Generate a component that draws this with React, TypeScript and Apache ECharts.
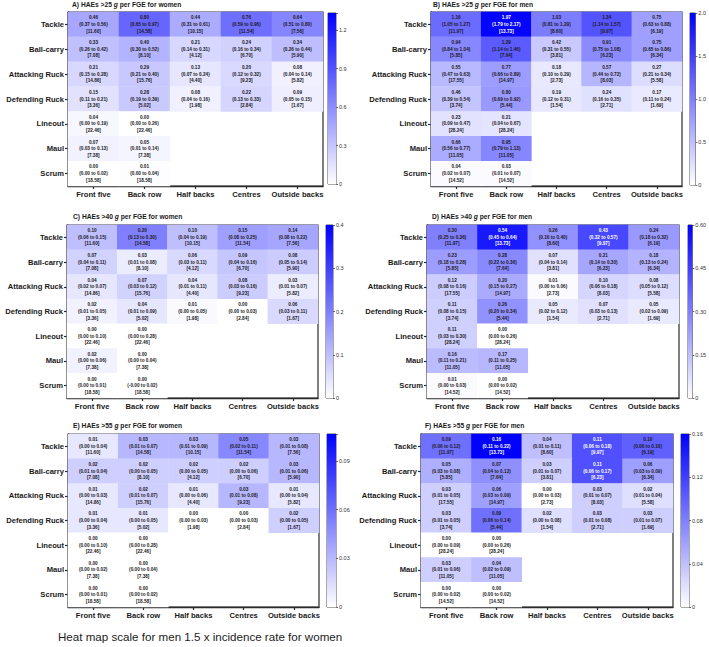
import React, { useEffect, useRef } from "react";
import * as echarts from "echarts";

const positions = ["Front five", "Back row", "Half backs", "Centres", "Outside backs"];
const actions = ["Tackle", "Ball-carry", "Attacking Ruck", "Defending Ruck", "Lineout", "Maul", "Scrum"];

const exposureWomen = [
  [11.6, 14.58, 10.15, 11.54, 7.56],
  [7.08, 8.1, 4.12, 6.7, 5.9],
  [14.86, 15.76, 4.4, 9.23, 5.82],
  [3.36, 5.02, 1.98, 2.84, 1.67],
  [22.46, 22.46, null, null, null],
  [7.38, 7.38, null, null, null],
  [18.58, 18.58, null, null, null],
];
const exposureMen = [
  [11.97, 13.73, 8.6, 9.97, 6.19],
  [5.85, 7.64, 3.81, 6.23, 6.34],
  [17.55, 14.97, 2.73, 8.03, 5.58],
  [3.74, 5.44, 1.54, 2.71, 1.69],
  [28.24, 28.24, null, null, null],
  [11.05, 11.05, null, null, null],
  [14.52, 14.52, null, null, null],
];

// A) >25 g women
const women25Rate = [[0.46, 0.8, 0.44, 0.76, 0.64], [0.33, 0.4, 0.21, 0.24, 0.34], [0.21, 0.29, 0.13, 0.2, 0.08], [0.15, 0.28, 0.08, 0.22, 0.09], [0.04, 0.0], [0.07, 0.05], [0.0, 0.01]];
const women25Lo = [[0.37, 0.65, 0.31, 0.59, 0.51], [0.26, 0.3, 0.14, 0.16, 0.26], [0.15, 0.21, 0.07, 0.12, 0.04], [0.11, 0.19, 0.04, 0.13, 0.05], [0.0, 0.0], [0.03, 0.01], [0.0, 0.0]];
const women25Hi = [[0.56, 0.97, 0.61, 0.96, 0.8], [0.42, 0.52, 0.31, 0.34, 0.44], [0.28, 0.4, 0.24, 0.32, 0.14], [0.21, 0.39, 0.16, 0.33, 0.15], [0.19, 0.26], [0.13, 0.14], [0.02, 0.04]];
// B) >25 g men
const men25Rate = [[1.16, 1.97, 1.03, 1.34, 0.75], [0.94, 1.29, 0.42, 0.91, 0.75], [0.55, 0.77, 0.18, 0.57, 0.27], [0.46, 0.8, 0.19, 0.24, 0.17], [0.23, 0.21], [0.66, 0.95], [0.04, 0.03]];
const men25Lo = [[1.05, 1.79, 0.81, 1.14, 0.63], [0.84, 1.14, 0.31, 0.75, 0.65], [0.47, 0.66, 0.1, 0.44, 0.21], [0.39, 0.69, 0.12, 0.16, 0.11], [0.09, 0.04], [0.56, 0.79], [0.02, 0.01]];
const men25Hi = [[1.27, 2.17, 1.29, 1.57, 0.88], [1.04, 1.46, 0.55, 1.08, 0.86], [0.63, 0.89, 0.29, 0.72, 0.34], [0.54, 0.92, 0.31, 0.35, 0.24], [0.47, 0.67], [0.77, 1.13], [0.07, 0.07]];
// C) >40 g women
const women40Rate = [[0.1, 0.2, 0.1, 0.15, 0.14], [0.07, 0.03, 0.06, 0.09, 0.08], [0.04, 0.07, 0.04, 0.08, 0.03], [0.02, 0.04, 0.01, 0.0, 0.06], [0.0, 0.0], [0.02, 0.0], [0.0, 0.0]];
const women40Lo = [[0.06, 0.13, 0.04, 0.08, 0.08], [0.04, 0.01, 0.03, 0.04, 0.05], [0.02, 0.03, 0.01, 0.03, 0.01], [0.01, 0.01, 0.0, 0.0, 0.03], [0.0, 0.0], [0.0, 0.0], [0.0, -0.001]];
const women40Hi = [[0.15, 0.3, 0.19, 0.25, 0.22], [0.11, 0.08, 0.11, 0.16, 0.14], [0.07, 0.12, 0.11, 0.16, 0.07], [0.05, 0.09, 0.05, 0.03, 0.11], [0.1, 0.28], [0.06, 0.04], [0.01, 0.02]];
// D) >40 g men
const men40Rate = [[0.3, 0.54, 0.26, 0.43, 0.24], [0.23, 0.28, 0.07, 0.21, 0.18], [0.12, 0.2, 0.01, 0.1, 0.08], [0.11, 0.26, 0.05, 0.07, 0.05], [0.11, 0.0], [0.16, 0.17], [0.01, 0.0]];
const men40Lo = [[0.25, 0.45, 0.16, 0.32, 0.18], [0.18, 0.22, 0.04, 0.14, 0.13], [0.08, 0.15, 0.0, 0.06, 0.05], [0.08, 0.2, 0.02, 0.03, 0.02], [0.03, 0.0], [0.11, 0.11], [0.0, 0.0]];
const men40Hi = [[0.36, 0.64, 0.4, 0.57, 0.32], [0.28, 0.36, 0.14, 0.3, 0.24], [0.16, 0.27, 0.06, 0.18, 0.12], [0.15, 0.34, 0.12, 0.13, 0.09], [0.3, 0.26], [0.21, 0.25], [0.03, 0.02]];
// E) >55 g women
const women55Rate = [[0.01, 0.03, 0.03, 0.05, 0.03], [0.02, 0.02, 0.02, 0.02, 0.03], [0.01, 0.02, 0.01, 0.03, 0.01], [0.01, 0.01, 0.0, 0.0, 0.02], [0.0, 0.0], [0.0, 0.0], [0.0, 0.0]];
const women55Lo = [[0.0, 0.01, 0.01, 0.02, 0.01], [0.01, 0.0, 0.0, 0.0, 0.01], [0.0, 0.01, 0.0, 0.01, 0.0], [0.0, 0.0, 0.0, 0.0, 0.0], [0.0, 0.0], [0.0, 0.0], [0.0, 0.0]];
const women55Hi = [[0.04, 0.07, 0.09, 0.11, 0.08], [0.04, 0.05, 0.05, 0.06, 0.06], [0.03, 0.07, 0.06, 0.08, 0.04], [0.04, 0.05, 0.03, 0.03, 0.05], [0.1, 0.28], [0.02, 0.04], [0.01, 0.02]];
// F) >55 g men
const men55Rate = [[0.09, 0.16, 0.04, 0.11, 0.1], [0.05, 0.07, 0.03, 0.11, 0.06], [0.03, 0.06, 0.0, 0.03, 0.02], [0.03, 0.09, 0.02, 0.03, 0.03], [0.0, 0.0], [0.03, 0.04], [0.0, 0.0]];
const men55Lo = [[0.06, 0.11, 0.01, 0.06, 0.06], [0.03, 0.04, 0.01, 0.06, 0.03], [0.01, 0.03, 0.0, 0.01, 0.01], [0.01, 0.06, 0.0, 0.01, 0.01], [0.0, 0.0], [0.01, 0.02], [0.0, 0.0]];
const men55Hi = [[0.12, 0.22, 0.11, 0.18, 0.16], [0.08, 0.12, 0.07, 0.17, 0.09], [0.05, 0.09, 0.03, 0.07, 0.04], [0.05, 0.14, 0.08, 0.08, 0.07], [0.09, 0.26], [0.06, 0.09], [0.02, 0.02]];

const panelLetters = ["A", "B", "C", "D", "E", "F"];
const thresholds = ["25", "25", "40", "40", "55", "55"];
const sexes = ["women", "men", "women", "men", "women", "men"];
const scaleMax = [2.0 / 1.5, 2.0, 0.4, 0.6, 0.16 / 1.5, 0.16];
const scaleInterval = [0.3, 0.5, 0.1, 0.15, 0.03, 0.04];
const scaleTickLabels = [
  ["0", "0.3", "0.6", "0.9", "1.2"],
  ["0", "0.5", "1.0", "1.5", "2.0"],
  ["0", "0.1", "0.2", "0.3", "0.4"],
  ["0", "0.15", "0.30", "0.45", "0.60"],
  ["0", "0.03", "0.06", "0.09"],
  ["0", "0.04", "0.08", "0.12", "0.16"],
];
const footnote = "Heat map scale for men 1.5 x incidence rate for women";

const rates = [women25Rate, men25Rate, women40Rate, men40Rate, women55Rate, men55Rate];
const lows = [women25Lo, men25Lo, women40Lo, men40Lo, women55Lo, men55Lo];
const highs = [women25Hi, men25Hi, women40Hi, men40Hi, women55Hi, men55Hi];

// layout: [left, top, width, height]
const heatGrids = [
  [68, 12, 255, 174],
  [431, 12, 251, 174],
  [67, 225, 251, 173],
  [427, 225, 252, 173],
  [68, 434, 251, 173],
  [421, 434, 252, 173],
];
const barGrids = [
  [328, 13, 8, 171],
  [690, 13, 8, 172],
  [326, 225, 7, 173],
  [688, 225, 8, 173],
  [327, 434, 9, 173],
  [681, 434, 8, 173],
];
const titlePos = [
  [72, 1],
  [433, 1],
  [73, 213],
  [432, 213],
  [73, 422],
  [425, 422],
];

const FONT = "'Liberation Sans', Arial, Helvetica, sans-serif";
const DARK = "#1a1a1a";

function buildOption() {
  const grid: any[] = [];
  const xAxis: any[] = [];
  const yAxis: any[] = [];
  const series: any[] = [];
  const visualMap: any[] = [];
  const title: any[] = [];

  for (let p = 0; p < 6; p++) {
    const max = scaleMax[p];
    const interval = scaleInterval[p];
    const exp = p % 2 === 0 ? exposureWomen : exposureMen;
    const hg = heatGrids[p];
    const bg = barGrids[p];

    grid.push({ left: hg[0], top: hg[1], width: hg[2], height: hg[3], show: true, borderColor: "#2a2a2a", borderWidth: 1.2, containLabel: false });
    grid.push({ left: bg[0], top: bg[1], width: bg[2], height: bg[3], show: true, borderColor: "#2a2a2a", borderWidth: 0.8, containLabel: false });

    xAxis.push({
      gridIndex: 2 * p,
      type: "category",
      data: positions,
      position: "bottom",
      axisLine: { show: true, lineStyle: { color: "#2a2a2a", width: 1.4 } },
      axisTick: { show: true, alignWithLabel: true, length: 3, lineStyle: { color: "#2a2a2a", width: 1.2 } },
      axisLabel: { fontSize: 7.6, fontWeight: "bold", color: DARK, fontFamily: FONT, margin: 4, interval: 0 },
      splitLine: { show: false },
    });
    xAxis.push({ gridIndex: 2 * p + 1, type: "category", data: [""], show: false });

    yAxis.push({
      gridIndex: 2 * p,
      type: "category",
      data: actions,
      inverse: true,
      axisLine: { show: true, lineStyle: { color: "#2a2a2a", width: 1.4 } },
      axisTick: { show: true, alignWithLabel: true, length: 3, lineStyle: { color: "#2a2a2a", width: 1.2 } },
      axisLabel: { fontSize: 7.6, fontWeight: "bold", color: DARK, fontFamily: FONT, margin: 4, interval: 0 },
      splitLine: { show: false },
    });
    const labels = scaleTickLabels[p];
    yAxis.push({
      gridIndex: 2 * p + 1,
      type: "value",
      min: 0,
      max: max,
      interval: interval,
      position: "right",
      axisLine: { show: false },
      axisTick: { show: true, length: 2, lineStyle: { color: "#444", width: 0.8 } },
      axisLabel: {
        fontSize: 5.5,
        color: "#333",
        fontFamily: FONT,
        margin: 3,
        formatter: (v: number) => {
          const k = Math.round(v / interval);
          if (Math.abs(v - k * interval) > interval * 0.01) return "";
          return labels[k] ?? "";
        },
      },
      splitLine: { show: false },
    });

    const data: any[] = [];
    const r = rates[p];
    const lo = lows[p];
    const hi = highs[p];
    for (let a = 0; a < actions.length; a++) {
      for (let c = 0; c < positions.length; c++) {
        const v = r[a][c];
        if (v === undefined || v === null) continue;
        data.push({
          value: [c, a, v],
          lo: lo[a][c],
          hi: hi[a][c],
          exp: exp[a][c],
          label: { color: v / max > 0.68 ? "#ffffff" : DARK },
        });
      }
    }
    series.push({
      type: "heatmap",
      xAxisIndex: 2 * p,
      yAxisIndex: 2 * p,
      data,
      label: {
        show: true,
        fontSize: 4.7,
        lineHeight: 6.6,
        fontWeight: "bold",
        fontFamily: FONT,
        formatter: (params: any) => {
          const d = params.data;
          return `${d.value[2].toFixed(2)}\n(${d.lo.toFixed(2)} to ${d.hi.toFixed(2)})\n[${d.exp.toFixed(2)}]`;
        },
      },
      emphasis: { disabled: true },
      silent: true,
    });
    series.push({
      type: "bar",
      xAxisIndex: 2 * p + 1,
      yAxisIndex: 2 * p + 1,
      data: [max],
      barWidth: "100%",
      silent: true,
      itemStyle: {
        color: new echarts.graphic.LinearGradient(0, 0, 0, 1, [
          { offset: 0, color: "#0000ff" },
          { offset: 1, color: "#ffffff" },
        ]),
      },
    });
    visualMap.push({
      type: "continuous",
      show: false,
      min: 0,
      max: max,
      seriesIndex: 2 * p,
      dimension: 2,
      inRange: { color: ["#ffffff", "#0000ff"] },
    });

    title.push({
      text: `{b|${panelLetters[p]}) HAEs >${thresholds[p]} }{i|g}{b| per FGE for ${sexes[p]}}`,
      left: titlePos[p][0],
      top: titlePos[p][1],
      padding: 0,
      textStyle: {
        rich: {
          b: { fontSize: 6.7, fontWeight: "bold", color: DARK, fontFamily: FONT },
          i: { fontSize: 6.7, fontWeight: "bold", fontStyle: "italic", color: DARK, fontFamily: FONT },
        },
      },
    });
  }

  title.push({
    text: footnote,
    left: 58,
    top: 630,
    padding: 0,
    textStyle: { fontSize: 11.6, fontWeight: "normal", color: "#222", fontFamily: FONT },
  });

  return {
    animation: false,
    backgroundColor: "#ffffff",
    title,
    grid,
    xAxis,
    yAxis,
    visualMap,
    series,
  };
}

export default function App() {
  const ref = useRef<HTMLDivElement>(null);
  useEffect(() => {
    if (!ref.current) return;
    const chart = echarts.init(ref.current, null, { renderer: "svg" });
    chart.setOption(buildOption() as any);
    return () => chart.dispose();
  }, []);
  return <div ref={ref} style={{ position: "fixed", left: 0, top: 0, width: 709, height: 647, background: "#fff" }} />;
}
